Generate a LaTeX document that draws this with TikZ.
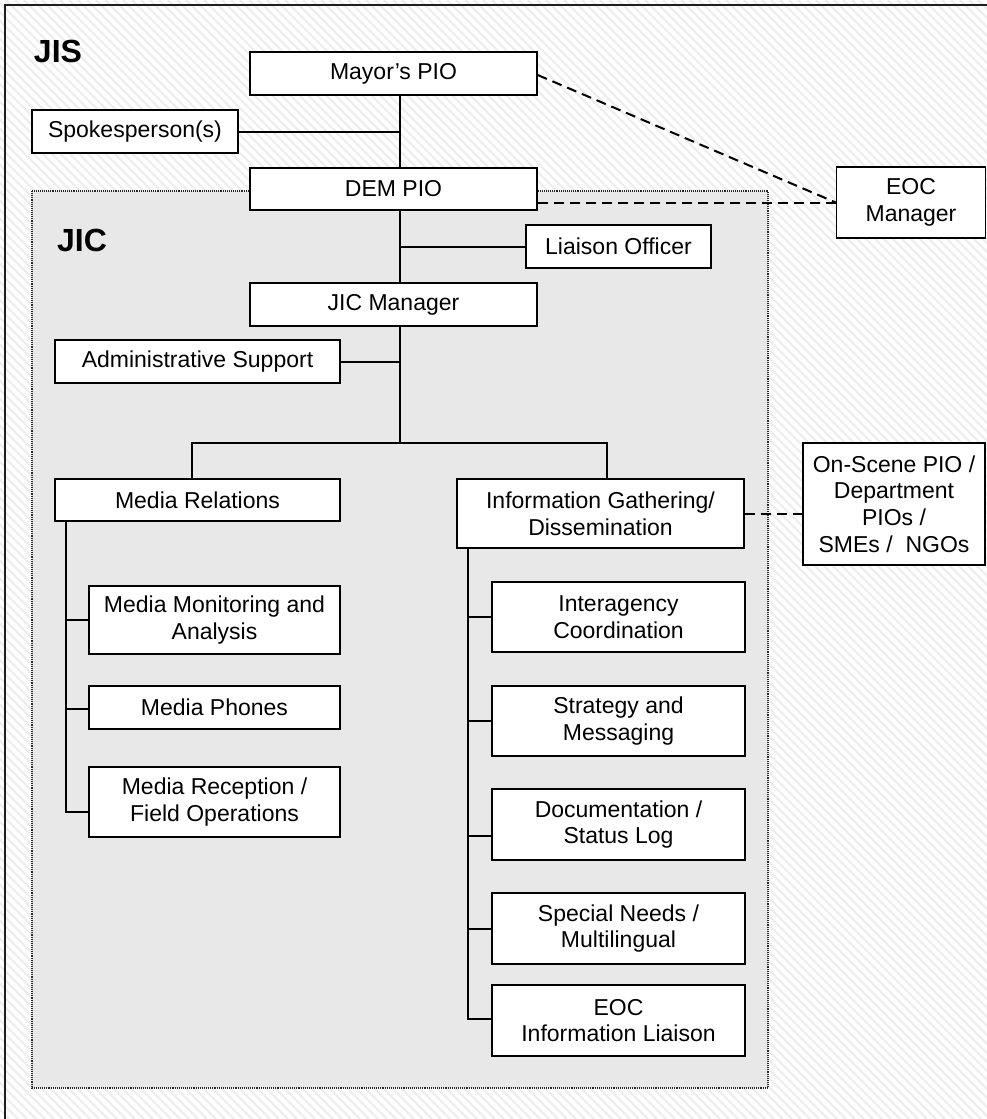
\documentclass[tikz,border=0pt]{standalone}
\usepackage{fontspec}
\setmainfont{Liberation Sans}
\begin{document}
\begin{tikzpicture}[x=1pt,y=-1pt,
  box/.style={draw=black, line width=1.4pt, fill=white, inner sep=0pt,
    align=center, font=\fontsize{23}{26.8}\selectfont},
  wire/.style={draw=black, line width=2pt},
  dashwire/.style={draw=black, line width=2pt, dash pattern=on 10pt off 6pt},
  hatch/.style={draw={rgb,255:red,238;green,238;blue,238}, line width=2.2pt},
  title/.style={font=\fontsize{32}{35}\selectfont\bfseries, inner sep=0pt}]

% page area and hatched background
\useasboundingbox (0,0) rectangle (987,1119);
\fill[white] (0,0) rectangle (987,1119);
\begin{scope}
  \clip (0,0) rectangle (987,1119);
  \foreach \i in {-1200,-1191,...,1000}
    \draw[hatch] (\i,0) -- (\i+1119,1119);
  \draw[line width=2pt, draw={rgb,255:red,30;green,30;blue,30}] (5,5) rectangle (1000,1140);
\end{scope}

% JIC region
\draw[fill={rgb,255:red,232;green,232;blue,232}, draw={rgb,255:red,40;green,40;blue,40},
  line width=1.1pt, densely dotted] (32,191) rectangle (768,1088);

\node[title] (jis) at (58,51) {JIS};
\node[title] (jic) at (82,240) {JIC};

% boxes
\node[box, minimum width=287pt, minimum height=43pt] (mayor) at (393.5,73.5) {Mayor’s PIO};
\node[box, minimum width=206pt, minimum height=43pt] (spokes) at (135,131.5) {Spokesperson(s)};
\node[box, minimum width=287pt, minimum height=42pt] (dem) at (393.5,189) {DEM PIO};
\node[box, minimum width=149pt, minimum height=71pt] (eoc) at (911,202.5) {EOC\\Manager};
\node[box, minimum width=185pt, minimum height=43pt] (liaison) at (618.5,246.5) {Liaison Officer};
\node[box, minimum width=287pt, minimum height=43pt] (jicm) at (393.5,304.5) {JIC Manager};
\node[box, minimum width=285pt, minimum height=43pt] (admin) at (197.5,361.5) {Administrative Support};
\node[box, minimum width=285pt, minimum height=42pt] (media) at (197.5,500) {Media Relations};
\node[box, minimum width=287pt, minimum height=69pt] (info) at (600.5,513.5) {Information Gathering/\\Dissemination};
\node[box, minimum width=182pt, minimum height=122pt] (onscene) at (894,504) {On-Scene PIO /\\Department\\PIOs /\\SMEs /\ \ NGOs};

\node[box, minimum width=251pt, minimum height=68pt] (monitor) at (214.5,620) {Media Monitoring and\\Analysis};
\node[box, minimum width=251pt, minimum height=43pt] (phones) at (214.5,707.5) {Media Phones};
\node[box, minimum width=251pt, minimum height=70pt] (reception) at (214.5,802) {Media Reception /\\Field Operations};

\node[box, minimum width=253pt, minimum height=70pt] (inter) at (618.5,617) {Interagency\\Coordination};
\node[box, minimum width=253pt, minimum height=70pt] (strategy) at (618.5,721) {Strategy and\\Messaging};
\node[box, minimum width=253pt, minimum height=71pt] (docs) at (618.5,824.5) {Documentation /\\Status Log};
\node[box, minimum width=253pt, minimum height=71pt] (special) at (618.5,928.5) {Special Needs /\\Multilingual};
\node[box, minimum width=253pt, minimum height=71pt] (eocinfo) at (618.5,1020.5) {EOC\\Information Liaison};

% junction points
\coordinate (t1) at (400,131.5);
\coordinate (t2) at (400,246.5);
\coordinate (t3) at (400,361.5);
\coordinate (t4) at (400,443);
\coordinate (bl) at (192,443);
\coordinate (br) at (607,443);
\coordinate (ml) at (66,812);
\coordinate (il) at (468,1019);

% main chain
\draw[wire] (mayor.south -| t1) -- (dem.north -| t1);
\draw[wire] (spokes.east) -- (t1);
\draw[wire] (dem.south -| t2) -- (jicm.north -| t2);
\draw[wire] (t2) -- (liaison.west);
\draw[wire] (jicm.south -| t3) -- (t4);
\draw[wire] (admin.east) -- (t3);
\draw[wire] (media.north -| bl) -- (bl) -- (br) -- (info.north -| br);

% media relations branch
\draw[wire] (media.south -| ml) -- (ml) -- (ml -| reception.west);
\draw[wire] (66,620) -- (monitor.west);
\draw[wire] (66,709) -- (phones.west |- 0,709);

% information gathering branch
\draw[wire] (info.south -| il) -- (il) -- (il -| eocinfo.west);
\draw[wire] (468,617) -- (inter.west);
\draw[wire] (468,721) -- (strategy.west);
\draw[wire] (468,836) -- (docs.west |- 0,836);
\draw[wire] (468,928.5) -- (special.west);

% dashed links
\draw[dashwire] (mayor.east |- 0,75) -- (eoc.west);
\draw[dashwire] (dem.east |- eoc.west) -- (eoc.west);
\draw[dashwire] (info.east) -- (onscene.west |- info.east);
\end{tikzpicture}
\end{document}
